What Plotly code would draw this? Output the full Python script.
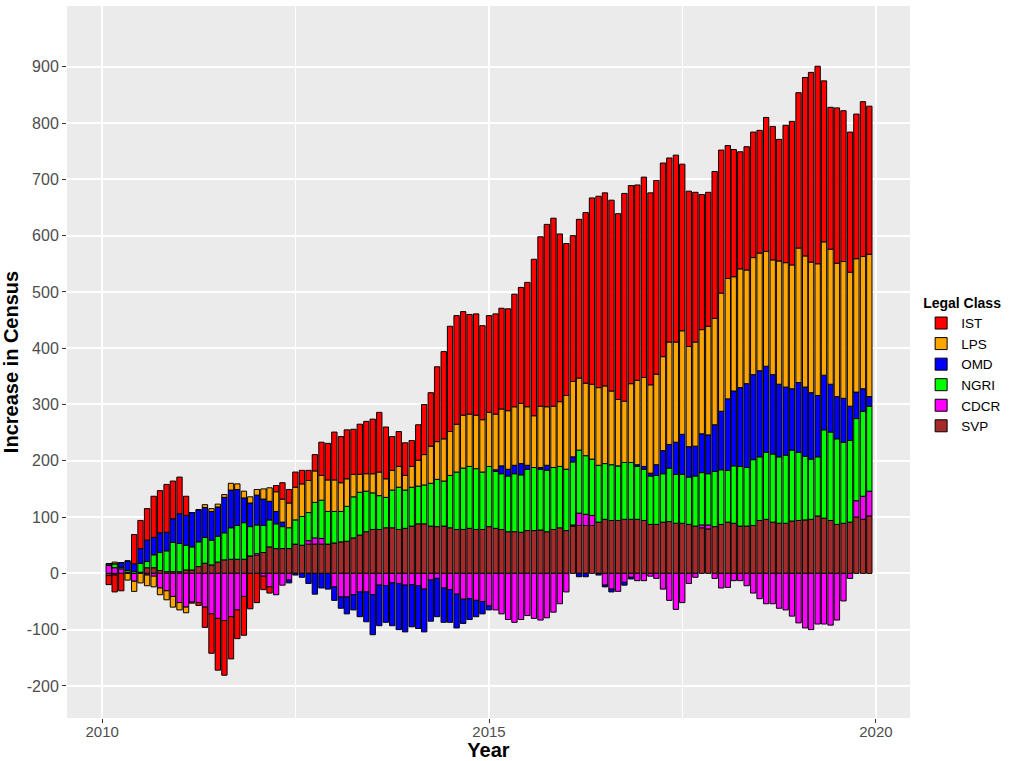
import pandas as pd
import plotly.graph_objects as go

months = pd.date_range("2010-02-01", periods=119, freq="MS")

SVP = [-4, -3, 0, 0, 0, 2, 10, 10, 5, 3, 3, 3, 6, 6, 12, 18, 15, 20, 24, 25,
       25, 25, 31, 32, 37, 47, 44, 44, 44, 52, 50, 52, 52, 52, 52, 54, 56, 57, 63, 68,
       74, 78, 78, 81, 81, 78, 80, 84, 88, 88, 84, 83, 84, 81, 78, 78, 80, 78, 78, 83,
       80, 78, 74, 74, 73, 76, 76, 77, 74, 78, 81, 76, 84, 85, 85, 85, 91, 96, 94, 94,
       96, 96, 96, 94, 87, 87, 91, 92, 89, 89, 87, 84, 81, 79, 83, 87, 91, 89, 84, 84,
       85, 94, 96, 91, 89, 89, 93, 94, 95, 96, 102, 98, 94, 87, 89, 91, 100, 96, 102]
CDCR = [14, 10, 8, 2, -14, 0, -3, -5, -26, -31, -41, -52, -60, -51, -52, -60, -72, -80, -84, -77,
        -65, -41, 0, 3, -5, -24, -38, -21, -12, 0, 0, 6, 11, 10, 0, -24, -42, -42, -38, -33,
        -33, -38, -21, -22, -17, -18, -21, -20, -22, -28, -12, -9, -26, -29, -37, -46, -45, -48, -50, -58,
        -65, -72, -82, -87, -82, -75, -80, -83, -79, -69, -54, -33, 2, 22, 20, 18, 0, -21, -28, -32,
        -16, -7, -13, -13, -5, -9, -28, -48, -64, -52, -18, -7, 5, 7, -9, -26, -25, -13, -13, -22,
        -35, -45, -54, -54, -62, -65, -76, -88, -97, -100, -90, -90, -92, -83, -49, -9, 29, 41, 44]
NGRI = [3, 7, 3, 3, 3, 16, 11, 23, 32, 37, 52, 50, 44, 41, 44, 46, 44, 46, 48, 56,
        60, 65, 52, 51, 48, 48, 44, 39, 37, 43, 51, 50, 63, 68, 58, 56, 54, 62, 73, 76,
        72, 65, 60, 54, 67, 75, 68, 69, 67, 69, 76, 84, 80, 93, 102, 109, 110, 108, 102, 107,
        101, 99, 99, 103, 102, 109, 112, 108, 109, 110, 109, 109, 112, 112, 104, 100, 101, 99, 99, 97,
        101, 101, 94, 91, 86, 87, 86, 95, 87, 87, 84, 89, 93, 91, 98, 97, 92, 102, 106, 104,
        117, 113, 119, 121, 118, 121, 126, 121, 113, 107, 105, 157, 157, 152, 144, 145, 146, 151, 151]
OMD = [0, 0, 8, 17, 14, 26, 38, 31, 35, 33, 42, 53, 53, 61, 57, 53, 51, 52, 63, 67,
       64, 44, 42, 53, 47, 33, 22, 8, -5, -3, -7, -18, -37, -26, -28, -24, -20, -30, -27, -44,
       -53, -71, -72, -65, -76, -82, -83, -75, -76, -76, -73, -68, -61, -58, -60, -43, -37, -29, -22, -7,
       3, 14, 12, 15, 20, 7, 0, 3, 9, 0, 0, 0, 9, -6, -6, 0, -3, -3, -5, 0,
       -5, -3, 3, 5, 5, 19, 41, 42, 57, 71, 54, 53, 69, 69, 83, 104, 127, 133, 140, 149,
       151, 153, 153, 141, 129, 121, 109, 124, 123, 118, 109, 97, 85, 75, 78, 61, 47, 40, 17]
LPS = [0, 3, 0, -12, -18, -17, -19, -19, -12, -16, -19, -13, -10, 0, 0, 5, 5, 5, 5, 12,
       10, 12, 11, 10, 18, 24, 35, 41, 44, 58, 58, 57, 56, 44, 56, 56, 51, 49, 40, 32,
       31, 34, 42, 33, 35, 37, 26, 37, 46, 54, 66, 67, 75, 78, 85, 94, 93, 95, 93, 96,
       99, 101, 104, 104, 107, 104, 92, 109, 104, 109, 115, 131, 134, 128, 129, 133, 138, 138, 131, 118,
       109, 140, 150, 158, 157, 161, 167, 182, 178, 184, 178, 185, 185, 193, 189, 210, 214, 203, 211, 202,
       208, 209, 204, 204, 219, 221, 220, 239, 233, 232, 234, 237, 240, 237, 243, 238, 237, 235, 253]
IST = [-16, -30, -31, 0, 52, 50, 56, 73, 75, 85, 67, 65, 34, -2, -5, -36, -70, -92, -97, -75,
       -51, -69, -63, -52, -24, -11, 11, 29, 24, 27, 24, 18, 29, 59, 65, 85, 82, 87, 80, 89,
       93, 97, 106, 92, 60, 62, 58, 46, 63, 89, 95, 133, 155, 187, 193, 184, 177, 180, 167, 172,
       178, 179, 181, 200, 206, 221, 278, 301, 324, 334, 298, 270, 259, 282, 303, 331, 340, 343, 339, 330,
       369, 352, 347, 356, 341, 344, 344, 327, 332, 296, 276, 266, 240, 238, 261, 254, 236, 226, 208, 219,
       223, 218, 238, 237, 216, 244, 255, 276, 317, 337, 351, 286, 252, 276, 268, 249, 257, 275, 263]

y_ticks = list(range(-200, 1000, 100))
y_labels = [str(v) for v in y_ticks]
x_ticks = ["2010-01-01", "2015-01-01", "2020-01-01"]
x_labels = ["2010", "2015", "2020"]

series = [("SVP", SVP, "#A52A2A"), ("CDCR", CDCR, "#FF00FF"), ("NGRI", NGRI, "#00FF00"),
          ("OMD", OMD, "#0000FF"), ("LPS", LPS, "#FFA500"), ("IST", IST, "#FF0000")]

bar_width_ms = 25.2 * 24 * 3600 * 1000

fig = go.Figure()
for name, vals, col in series:
    fig.add_trace(go.Bar(
        x=months, y=vals, name=name, width=bar_width_ms,
        marker=dict(color=col, line=dict(color="black", width=1)),
    ))

font_family = "Liberation Sans, Arial, sans-serif"
fig.update_layout(
    barmode="relative",
    width=1011, height=761,
    margin=dict(l=67, r=100, t=6, b=43),
    paper_bgcolor="white",
    plot_bgcolor="#EBEBEB",
    font=dict(family=font_family),
    legend=dict(
        title=dict(text="<b>Legal Class</b>", font=dict(size=14, color="black")),
        traceorder="reversed",
        font=dict(size=13.5, color="black"),
        x=1.012, xanchor="left", y=0.495, yanchor="middle",
        tracegroupgap=0,
    ),
    xaxis=dict(
        type="date",
        range=["2009-07-19", "2020-06-10"],
        tickmode="array",
        tickvals=x_ticks,
        ticktext=x_labels,
        showgrid=True, gridcolor="white", gridwidth=1.6,
        minor=dict(tickmode="array", tickvals=["2012-07-02", "2017-07-02"],
                   showgrid=True, gridcolor="white", gridwidth=0.8),
        zeroline=False, showline=False,
        ticks="outside", ticklen=4, tickcolor="#333333", tickwidth=1,
        ticklabelstandoff=-4,
        tickfont=dict(size=15, color="#4D4D4D"),
        title=dict(text="<b>Year</b>", font=dict(size=20, color="black"), standoff=4),
        automargin=False,
    ),
    yaxis=dict(
        range=[-257, 1008],
        tickmode="array",
        tickvals=y_ticks,
        ticktext=y_labels,
        showgrid=True, gridcolor="white", gridwidth=1.6,
        zeroline=False, showline=False,
        ticks="outside", ticklen=4, tickcolor="#333333", tickwidth=1,
        tickfont=dict(size=16, color="#4D4D4D"),
        title=dict(text="<b>Increase in Census</b>", font=dict(size=20, color="black"), standoff=4),
        automargin=False,
    ),
)

fig.write_html("out.html", config={"displayModeBar": False},
               post_script="document.body.style.margin='0px';document.body.style.padding='0px';")
